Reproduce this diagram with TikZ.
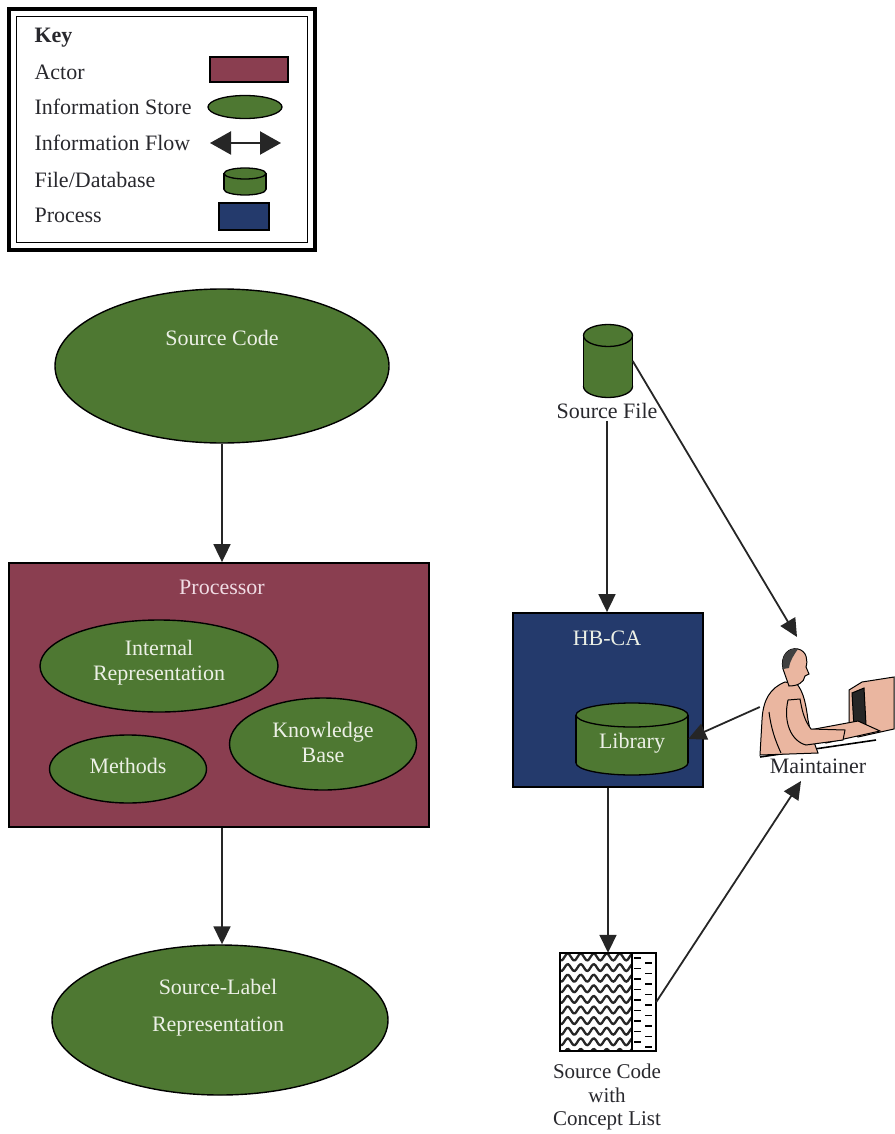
\documentclass[tikz,border=0pt]{standalone}
\usepackage{fontspec}
\setmainfont{Liberation Serif}
\usetikzlibrary{shapes.geometric,arrows.meta,calc}
\definecolor{storegreen}{RGB}{78,120,50}
\definecolor{actormaroon}{RGB}{138,62,80}
\definecolor{procnavy}{RGB}{36,58,108}
\definecolor{skin}{RGB}{234,182,160}
\definecolor{paletext}{RGB}{236,240,230}
\definecolor{pinktext}{RGB}{240,220,228}
\definecolor{inktext}{RGB}{40,40,45}

% cylinder drawn from plain paths: centre x, centre y, width, height, end radius
\newcommand{\drawcyl}[5]{%
  \filldraw[cylline] ({#1},{#2+#4/2-#5}) ellipse[x radius={#3/2}, y radius={#5}];
  \fill[storegreen] ({#1-#3/2},{#2-#4/2+#5}) rectangle ({#1+#3/2},{#2+#4/2-#5});
  \draw[cylline] ({#1-#3/2},{#2-#4/2+#5}) -- ({#1-#3/2},{#2+#4/2-#5});
  \draw[cylline] ({#1+#3/2},{#2-#4/2+#5}) -- ({#1+#3/2},{#2+#4/2-#5});
  \filldraw[cylline] ({#1},{#2-#4/2+#5}) ellipse[x radius={#3/2}, y radius={#5}];
}

\begin{document}
\begin{tikzpicture}[x=1pt,y=-1pt,
  every node/.style={font=\fontsize{22}{25}\selectfont, text=inktext},
  store/.style={ellipse,draw,line width=1.4pt,fill=storegreen,inner sep=0pt},
  actorbox/.style={rectangle,draw,line width=1.8pt,fill=actormaroon,inner sep=0pt},
  procbox/.style={rectangle,draw,line width=1.8pt,fill=procnavy,inner sep=0pt},
  anchorbox/.style={rectangle,inner sep=0pt},
  cylline/.style={draw=black,line width=1.3pt,fill=storegreen},
  flow/.style={line width=1.8pt,draw=black!85,-{Triangle[length=18pt,width=17pt]}},
  keytext/.style={anchor=west},
  lighttext/.style={text=paletext, align=center},
]
\useasboundingbox (0,0) rectangle (894,1134);

% ---------- key ----------
\draw[line width=4.5pt] (9,9) rectangle (315,250);
\draw[line width=1.5pt] (16.5,16.5) rectangle (307.5,242.5);
\node[keytext, font=\fontsize{22}{25}\bfseries] (kkey) at (31,38) {Key};
\node[keytext] (kactort) at (31,72) {Actor};
\node[keytext] (kstoret) at (31,107) {Information Store};
\node[keytext] (kflowt) at (31,143) {Information Flow};
\node[keytext] (kfilet) at (31,180) {File/Database};
\node[keytext] (kproct) at (31,215) {Process};
\node[actorbox, line width=1.3pt, minimum width=78, minimum height=25] (kactor) at (249,69.5) {};
\node[store, line width=1.3pt, minimum width=74, minimum height=23] (kstore) at (245,107) {};
\coordinate (kflowl) at (210,143);
\coordinate (kflowr) at (281,143);
\draw[line width=2.2pt, {Triangle[length=21pt,width=23pt]}-{Triangle[length=21pt,width=23pt]}, draw=black!85, fill=black!85] (kflowl) -- (kflowr);
\node[anchorbox, minimum width=42, minimum height=27] (kfile) at (245,181.5) {};
\drawcyl{245}{181.5}{42}{27}{5.5}
\node[procbox, line width=1.3pt, minimum width=50, minimum height=27] (kproc) at (244,216.5) {};

% ---------- left column ----------
\node[store, minimum width=334, minimum height=154] (sc) at (222,366) {};
\node[lighttext] (sct) at (222,338) {Source Code};

\node[actorbox, minimum width=420, minimum height=264] (proc) at (219,695) {};
\node[text=pinktext] (proct) at (222,587) {Processor};

\node[store, minimum width=238, minimum height=92] (ir) at (159,666) {};
\node[lighttext] (irt) at (159,663) {Internal\\Representation};
\node[store, minimum width=157, minimum height=68] (meth) at (128,769) {};
\node[lighttext] (metht) at (128,766) {Methods};
\node[store, minimum width=187, minimum height=92] (kb) at (323,744) {};
\node[lighttext] (kbt) at (323,742) {Knowledge\\Base};

\node[store, minimum width=336, minimum height=150] (slr) at (220,1020) {};
\node[lighttext, font=\fontsize{22}{37}\selectfont] (slrt) at (218,1008) {Source-Label\\Representation};

\draw[flow] (sc.south) -- (sc.south |- proc.north);
\draw[flow] (proc.south -| sc.south) -- (slr.north -| sc.south);

% ---------- right column ----------
\node[anchorbox, minimum width=49, minimum height=73] (sf) at (608,361) {};
\drawcyl{608}{361}{49}{73}{11}
\node[inner sep=2pt] (sft) at (607,411) {Source File};

\node[procbox, minimum width=190, minimum height=174] (hb) at (608,700) {};
\node[lighttext] (hbt) at (607,638) {HB-CA};
\node[anchorbox, minimum width=112, minimum height=72] (lib) at (632,739) {};
\drawcyl{632}{739}{112}{72}{12}
\node[lighttext] (libt) at (632,743) {Library};

% source code with concept list
\node[anchorbox, minimum width=96, minimum height=98] (doc) at (608,1002) {};
\fill[white] (doc.south west) rectangle (doc.north east);
\begin{scope}
  \clip (560,953) rectangle (632,1051);
  \foreach \k in {0,...,9}{
    \draw[line width=2.3pt, black!85]
      plot[domain=0:76, samples=60] ({558+\x},{957+\k*10.6+3.4*sin(\x*27.7)});
  }
\end{scope}
\draw[line width=1.3pt] (632,953) -- (632,1051);
\foreach \k in {0,...,8}{
  \draw[line width=1.8pt] (634,{958+\k*10.5}) -- (641,{958+\k*10.5});
  \draw[line width=1.8pt] (645,{963+\k*10.5}) -- (652,{963+\k*10.5});
}
\draw[line width=1.8pt] (doc.south west) rectangle (doc.north east);
\node[align=center, font=\fontsize{21}{23.5}\selectfont] (doct) at (607,1097) {Source Code\\with\\Concept List};

% maintainer at a workstation
\node[anchorbox, minimum width=134, minimum height=116] (maint) at (827,700) {};
\begin{scope}[line width=1pt, draw=black]
  % monitor
  \filldraw[fill=skin] (849,690) -- (862,682) -- (894,677) -- (894,729) -- (858,737) -- (849,730) -- cycle;
  \filldraw[fill=black!85] (852,693) -- (864,688) -- (866,725) -- (854,728) -- cycle;
  % keyboard and desk
  \filldraw[fill=skin] (804,731) -- (858,721) -- (880,731) -- (826,743) -- cycle;
  \draw[line width=1.6pt] (760,757) -- (876,740);
  % body
  \filldraw[fill=skin] (785,682) .. controls (770,688) and (763,700) .. (762,720)
    -- (760,755) -- (818,753) .. controls (813,740) and (810,730) .. (808,720)
    .. controls (806,705) and (804,693) .. (797,684) -- cycle;
  \draw (769,712) .. controls (771,728) and (775,740) .. (781,753);
  % arm
  \filldraw[fill=skin] (788,700) .. controls (783,722) and (791,741) .. (806,745)
    -- (843,740) -- (845,730) -- (811,729) .. controls (804,720) and (802,710) .. (800,699) -- cycle;
  % head
  \filldraw[fill=skin] (783,669) .. controls (780,655) and (789,647) .. (798,649)
    .. controls (807,651) and (808,661) .. (806,667) -- (809,674) -- (805,676)
    .. controls (804,683) and (797,686) .. (789,686) -- cycle;
  \fill[black!75] (783,669) .. controls (780,655) and (789,647) .. (798,649)
    .. controls (794,655) and (790,660) .. (789,668) -- cycle;
\end{scope}
\node (maintt) at (818,766) {Maintainer};
\coordinate (maintin) at (797,637);
\coordinate (maintfb) at (801,781);

\draw[flow] (sft.south) -- (sft.south |- hb.north);
\draw[flow] (sf.east) -- (maintin);
\draw[flow] ([yshift=-7pt]maint.west) -- (lib.east);
\draw[flow] (hb.south) -- (hb.south |- doc.north);
\draw[flow] (doc.east) -- (maintfb);

\end{tikzpicture}
\end{document}
